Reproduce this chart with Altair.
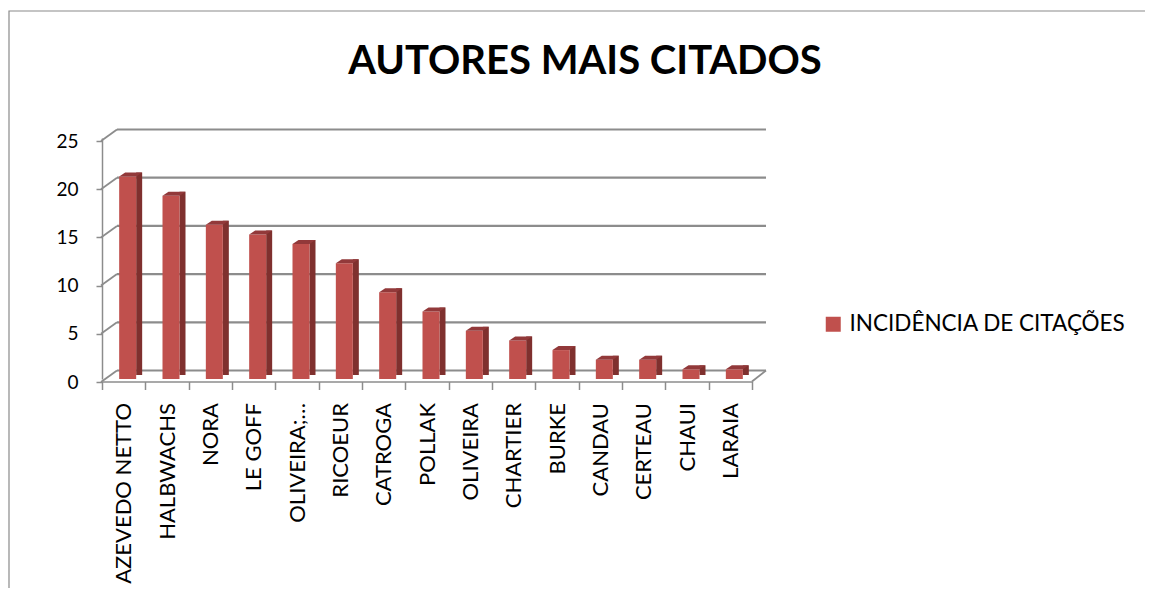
import altair as alt
import pandas as pd

autores = ["AZEVEDO NETTO", "HALBWACHS", "NORA", "LE GOFF", "OLIVEIRA;…", "RICOEUR",
           "CATROGA", "POLLAK", "OLIVEIRA", "CHARTIER", "BURKE", "CANDAU", "CERTEAU",
           "CHAUI", "LARAIA"]
citacoes = [21, 19, 16, 15, 14, 12, 9, 7, 5, 4, 3, 2, 2, 1, 1]
serie = "INCIDÊNCIA DE CITAÇÕES"
titulo = "AUTORES MAIS CITADOS"
y_ticks = [0, 5, 10, 15, 20, 25]

df = pd.DataFrame({"autor": autores, "valor": citacoes, "serie": [serie] * len(autores)})
grid_df = pd.DataFrame({"v": y_ticks})
floor_df = pd.DataFrame({"v": [0]})

W, H = 650, 241
FONT = "Lato"
FRONT = "#C0504D"
SIDE = "#7F302E"
TOP = "#92393A"
GRID = "#8C8C8C"

y_scale = alt.Scale(domain=[0, 25], nice=False, zero=True)
x_scale = alt.Scale(paddingInner=0, paddingOuter=0)

x_enc = alt.X("autor:N", sort=None, scale=x_scale, title=None,
              axis=alt.Axis(labelAngle=-90, labelFont=FONT, labelFontSize=22, labelColor="#000",
                            labelPadding=13, labelLimit=0, tickBand="extent", tickSize=8,
                            tickColor=GRID, tickWidth=1.5, domainColor=GRID, domainWidth=1.5,
                            offset=2.5, grid=False))
y_enc = alt.Y("valor:Q", scale=y_scale, title=None,
              axis=alt.Axis(values=y_ticks, labelFont=FONT, labelFontSize=19, labelColor="#000",
                            tickOffset=3, tickSize=6, tickColor=GRID, tickWidth=1.5,
                            domainColor=GRID, domainWidth=1.5, labelPadding=18, grid=False))

# back wall gridlines
grid = alt.Chart(grid_df).mark_rule(color=GRID, strokeWidth=2.2, yOffset=-8.5).encode(
    x=alt.value(15), x2=alt.value(664), y=alt.Y("v:Q", scale=y_scale))
# side wall diagonals
diag = alt.Chart(grid_df).mark_rule(color=GRID, strokeWidth=1.8, yOffset=3, y2Offset=-8.5).encode(
    x=alt.value(-1), x2=alt.value(15), y=alt.Y("v:Q", scale=y_scale), y2="v:Q")
floor_r = alt.Chart(floor_df).mark_rule(color=GRID, strokeWidth=1.8, yOffset=2.5, y2Offset=-8.5).encode(
    x=alt.value(650), x2=alt.value(664), y=alt.Y("v:Q", scale=y_scale), y2="v:Q")

side = alt.Chart(df).mark_bar(width=6, xOffset=15.5, yOffset=-4, y2Offset=-2, color=SIDE).encode(
    x=alt.X("autor:N", sort=None, scale=x_scale), y=alt.Y("valor:Q", scale=y_scale))

front = alt.Chart(df).mark_bar(width=17, xOffset=4).encode(
    x=x_enc, y=y_enc,
    color=alt.Color("serie:N", scale=alt.Scale(range=[FRONT]),
                    legend=alt.Legend(title=None, orient="none", legendX=720, legendY=175,
                                      symbolType="square", symbolSize=225, symbolStrokeWidth=0,
                                      labelFont=FONT, labelFontSize=22.5, labelColor="#000",
                                      labelLimit=0, padding=0, labelOffset=5)))

top_path = "M -0.3696 0 L 0.3696 0 L 0.6304 -0.1739 L -0.1087 -0.1739 Z"
top = alt.Chart(df).mark_point(shape=top_path, size=2116, filled=True, opacity=1, color=TOP,
                               strokeWidth=0, xOffset=4).encode(
    x=alt.X("autor:N", sort=None, scale=x_scale), y=alt.Y("valor:Q", scale=y_scale))

title = alt.Chart(floor_df).mark_text(text=titulo, font=FONT, fontSize=40, fontWeight="bold",
                                      color="#000", align="center", baseline="alphabetic").encode(
    x=alt.value(483), y=alt.value(-64))

border = alt.Chart(floor_df).mark_rect(filled=False, stroke="#8A8A8A", strokeWidth=1.2).encode(
    x=alt.value(-93), x2=alt.value(1200), y=alt.value(-127), y2=alt.value(1000))

chart = alt.layer(border, grid, diag, floor_r, side, front, top, title).properties(
    width=W, height=H,
    background="white",
    padding={"left": 94, "top": 130, "right": 393, "bottom": 209},
    autosize=alt.AutoSizeParams(type="none"),
).configure_view(stroke=None)

chart.save("out.html", embed_options={"renderer": "svg", "actions": False})
